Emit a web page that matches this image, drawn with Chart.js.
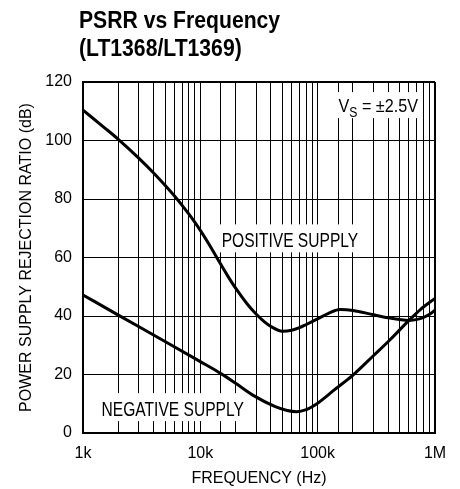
<!DOCTYPE html>
<html><head><meta charset="utf-8">
<script src="https://cdn.jsdelivr.net/npm/chart.js@4/dist/chart.umd.min.js"></script>
<style>html,body{margin:0;padding:0;background:#fff}#wrap{width:460px;height:489px;position:relative}</style>
</head><body><div id="wrap"><canvas id="c"></canvas></div>
<script>
// ---- data ----
const titleLines = ['PSRR vs Frequency', '(LT1368/LT1369)'];
const xTitle = 'FREQUENCY (Hz)';
const yTitle = 'POWER SUPPLY REJECTION RATIO (dB)';
const xTickLabels = {1000: '1k', 10000: '10k', 100000: '100k', 1000000: '1M'};
const yMin = 0, yMax = 120, yStep = 20;
const xMin = 1000, xMax = 1000000;
const seriesNames = ['POSITIVE SUPPLY', 'NEGATIVE SUPPLY'];
const condMain = 'V', condSub = 'S', condRest = ' = \u00B12.5V';

const posFreq = [1000, 1500, 2000, 3000, 4000, 5000, 6000, 7000, 8000, 10000, 12000, 14000, 17000, 20000, 25000, 30000, 35000, 40000, 50000, 60000, 70000, 80000, 100000, 125000, 155000, 200000, 300000, 400000, 500000, 600000, 750000, 900000, 1000000];
const posDb   = [110.4, 104.6, 100.4, 93.9, 88.9, 84.7, 81.1, 77.8, 74.8, 69.3, 64.2, 59.6, 53.9, 49.5, 44.2, 40.6, 38.1, 36.4, 34.8, 35.1, 36.0, 37.1, 39.0, 41.0, 42.2, 41.9, 40.4, 39.4, 38.8, 38.5, 39.1, 40.6, 42.0];

const negFreq = [1000, 2000, 5000, 10000, 15000, 20000, 29000, 43000, 55000, 66000, 80000, 100000, 116000, 136000, 200000, 300000, 412000, 600000, 750000, 1000000];
const negDb   = [47.2, 40.3, 31.3, 24.4, 20.3, 17.0, 12.6, 9.1, 7.7, 7.3, 8.0, 10.2, 12.2, 14.5, 19.8, 26.5, 31.8, 38.5, 42.2, 46.0];

// ---- chart ----
const FONT = '"Liberation Sans", Arial, sans-serif';
const toPts = (xs, ys) => xs.map((x, i) => ({x: x, y: ys[i]}));

// draws condensed text (horizontal squeeze) and returns its width
function condText(ctx, text, px, py, size, sx, bold, measureOnly) {
  ctx.font = (bold ? 'bold ' : '') + size + 'px ' + FONT;
  const w = ctx.measureText(text).width * sx;
  if (!measureOnly) {
    ctx.save();
    ctx.translate(px, py);
    ctx.scale(sx, 1);
    ctx.fillText(text, 0, 0);
    ctx.restore();
  }
  return w;
}

const labelPlugin = {
  id: 'labels',
  beforeDatasetsDraw(chart) {
    const {ctx, scales: {x, y}} = chart;
    ctx.save();
    ctx.textAlign = 'left';
    ctx.textBaseline = 'alphabetic';
    const LS = 20.5, LSX = 0.76;
    const boxed = (text, px, py) => {
      const w = condText(ctx, text, 0, 0, LS, LSX, false, true);
      ctx.fillStyle = '#fff';
      ctx.fillRect(px - 3, py - 15, w + 6, 28);
      ctx.fillStyle = '#000';
      condText(ctx, text, px, py + 7.4, LS, LSX, false, false);
    };
    boxed(seriesNames[0], x.getPixelForValue(15200), y.getPixelForValue(66.2));
    boxed(seriesNames[1], x.getPixelForValue(1440), y.getPixelForValue(8.5));
    // condition label (right aligned)
    const fsMain = 18.6, fsSub = 14, sx = 0.87;
    const wV = condText(ctx, condMain, 0, 0, fsMain, sx, false, true);
    const wS = condText(ctx, condSub, 0, 0, fsSub, sx, false, true);
    const wR = condText(ctx, condRest, 0, 0, fsMain, sx, false, true);
    const right = x.getPixelForValue(716000);
    const cy = y.getPixelForValue(112.1);
    const total = wV + wS + wR;
    const left = right - total;
    ctx.fillStyle = '#fff';
    ctx.fillRect(left - 3, cy - 13, total + 6, 26);
    ctx.fillStyle = '#000';
    condText(ctx, condMain, left, cy + 6.7, fsMain, sx, false, false);
    condText(ctx, condSub, left + wV, cy + 11.7, fsSub, sx, false, false);
    condText(ctx, condRest, left + wV + wS, cy + 6.7, fsMain, sx, false, false);
    ctx.restore();
  },
  afterDraw(chart) {
    const {ctx} = chart;
    ctx.save();
    ctx.fillStyle = '#000';
    ctx.textAlign = 'left';
    ctx.textBaseline = 'alphabetic';
    condText(ctx, titleLines[0], 79, 28.3, 24.2, 0.875, true, false);
    condText(ctx, titleLines[1], 79, 56, 24.2, 0.875, true, false);
    ctx.restore();
  }
};

const gridW = (ctx) => (ctx.tick && (ctx.tick.value === xMax || ctx.tick.value === yMax)) ? 2 : 1;

new Chart(document.getElementById('c'), {
  type: 'line',
  data: {
    datasets: [
      {label: seriesNames[0], data: toPts(posFreq, posDb), borderColor: '#000', borderWidth: 3, pointRadius: 0, cubicInterpolationMode: 'monotone', fill: false},
      {label: seriesNames[1], data: toPts(negFreq, negDb), borderColor: '#000', borderWidth: 3, pointRadius: 0, cubicInterpolationMode: 'monotone', fill: false}
    ]
  },
  options: {
    responsive: true,
    maintainAspectRatio: false,
    animation: false,
    layout: {padding: {top: 82, right: 25, left: 0, bottom: 0}},
    plugins: {legend: {display: false}, tooltip: {enabled: false}, title: {display: false}},
    scales: {
      x: {
        type: 'logarithmic', min: xMin, max: xMax,
        afterFit: (s) => { s.height = 56; },
        grid: {color: '#000', lineWidth: gridW, drawTicks: false},
        border: {display: true, color: '#000', width: 2},
        ticks: {
          autoSkip: false, maxRotation: 0, padding: 11, color: '#000',
          font: {family: FONT, size: 16},
          callback: (v) => xTickLabels[v] || ''
        },
        title: {display: true, text: xTitle, color: '#000', font: {family: FONT, size: 16}, padding: {top: 0, bottom: 1}}
      },
      y: {
        min: yMin, max: yMax,
        afterFit: (s) => { s.width = 83; },
        grid: {color: '#000', lineWidth: gridW, drawTicks: false},
        border: {display: true, color: '#000', width: 2},
        ticks: {stepSize: yStep, padding: 11, color: '#000', font: {family: FONT, size: 16}},
        title: {display: true, text: yTitle, color: '#000', font: {family: FONT, size: 16}, padding: {top: 17, bottom: 0}}
      }
    }
  },
  plugins: [labelPlugin]
});
</script></body></html>
